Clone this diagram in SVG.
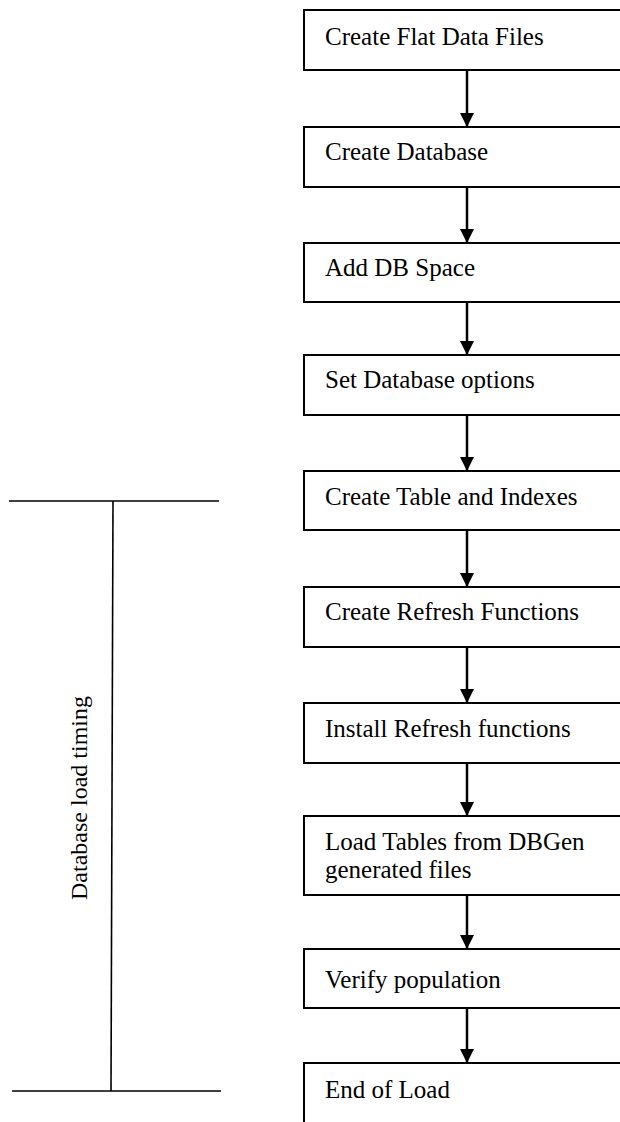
<svg xmlns="http://www.w3.org/2000/svg" width="620" height="1122" viewBox="0 0 620 1122">
<style>
.box{fill:#fff;stroke:#000;stroke-width:2}
.t{font-family:"Liberation Serif","Times New Roman",serif;font-size:25px;fill:#000}
.c{stroke:#000;stroke-width:2.5;fill:none}
.b{stroke:#000;stroke-width:1.6;fill:none}
</style>
<defs>
<marker id="ah" markerUnits="userSpaceOnUse" markerWidth="14" markerHeight="16" refX="14" refY="7" orient="auto">
<path d="M0,0 L14,7 L0,14 Z" fill="#000"/>
</marker>
</defs>
<g id="n1"><rect class="box" x="304" y="10" width="330" height="60"/><text class="t" x="325" y="45">Create Flat Data Files</text></g>
<g id="n2"><rect class="box" x="304" y="127" width="330" height="60"/><text class="t" x="325" y="160">Create Database</text></g>
<g id="n3"><rect class="box" x="304" y="243" width="330" height="59"/><text class="t" x="325" y="276">Add DB Space</text></g>
<g id="n4"><rect class="box" x="304" y="355" width="330" height="60"/><text class="t" x="325" y="388">Set Database options</text></g>
<g id="n5"><rect class="box" x="304" y="471" width="330" height="59"/><text class="t" x="325" y="505">Create Table and Indexes</text></g>
<g id="n6"><rect class="box" x="304" y="587" width="330" height="60"/><text class="t" x="325" y="620">Create Refresh Functions</text></g>
<g id="n7"><rect class="box" x="304" y="703" width="330" height="60"/><text class="t" x="325" y="737">Install Refresh functions</text></g>
<g id="n8"><rect class="box" x="304" y="816" width="330" height="79"/><text class="t" x="325" y="850">Load Tables from DBGen</text><text class="t" x="325" y="878">generated files</text></g>
<g id="n9"><rect class="box" x="304" y="949" width="330" height="59"/><text class="t" x="325" y="988">Verify population</text></g>
<g id="n10"><rect class="box" x="304" y="1063" width="330" height="80"/><text class="t" x="325" y="1098">End of Load</text></g>
<g id="connectors">
<line class="c" x1="467" y1="70" x2="467" y2="127" marker-end="url(#ah)"/>
<line class="c" x1="467" y1="187" x2="467" y2="243" marker-end="url(#ah)"/>
<line class="c" x1="467" y1="302" x2="467" y2="355" marker-end="url(#ah)"/>
<line class="c" x1="467" y1="415" x2="467" y2="471" marker-end="url(#ah)"/>
<line class="c" x1="467" y1="530" x2="467" y2="587" marker-end="url(#ah)"/>
<line class="c" x1="467" y1="647" x2="467" y2="703" marker-end="url(#ah)"/>
<line class="c" x1="467" y1="763" x2="467" y2="816" marker-end="url(#ah)"/>
<line class="c" x1="467" y1="895" x2="467" y2="949" marker-end="url(#ah)"/>
<line class="c" x1="467" y1="1008" x2="467" y2="1063" marker-end="url(#ah)"/>
</g>
<g id="timing">
<line class="b" x1="9" y1="501" x2="219" y2="501"/>
<line class="b" x1="113" y1="501" x2="111" y2="1091"/>
<line class="b" x1="12" y1="1091" x2="221" y2="1091"/>
<text class="t" style="font-size:24px" text-anchor="middle" transform="translate(87,798) rotate(-90)">Database load timing</text>
</g>
</svg>
